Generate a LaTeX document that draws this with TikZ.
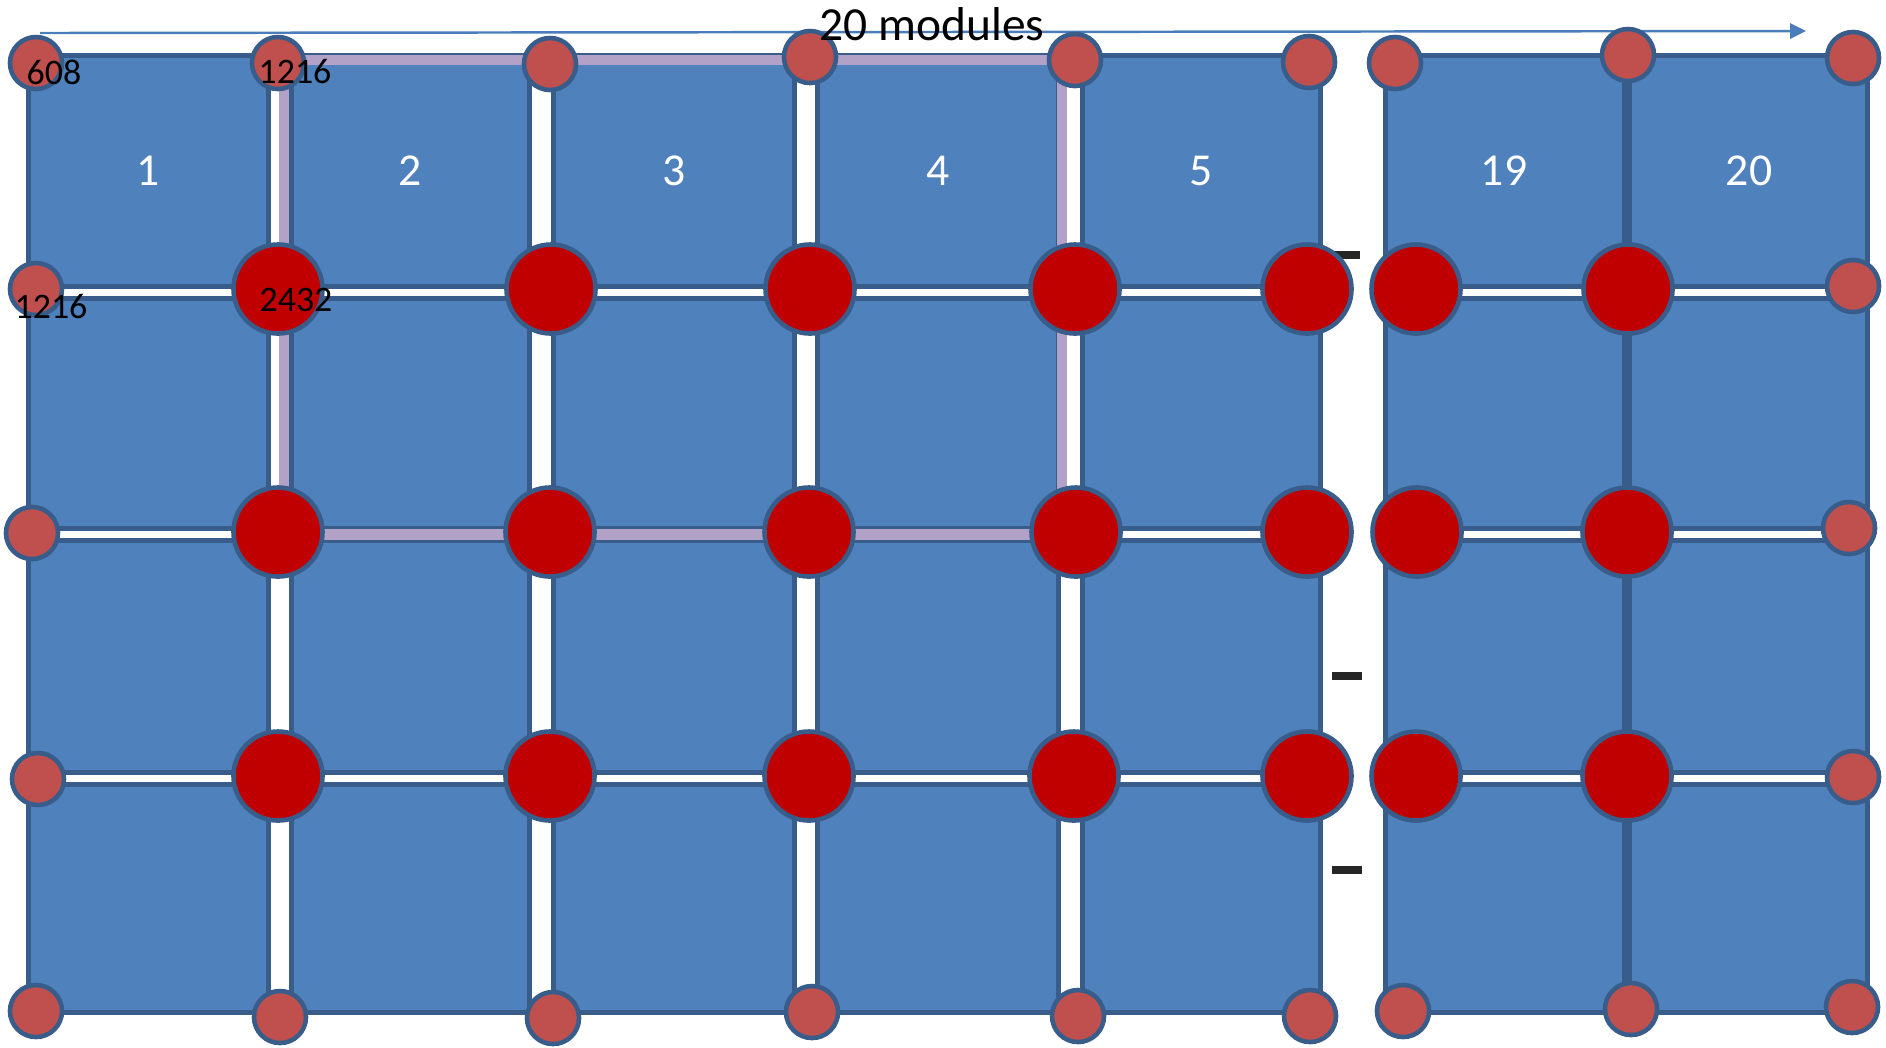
\documentclass[tikz,border=0pt]{standalone}
\usepackage{fontspec}
\setmainfont{Carlito}
\usetikzlibrary{arrows.meta}
\definecolor{tileblue}{HTML}{4F81BD}
\definecolor{tileedge}{HTML}{385D8A}
\definecolor{sitered}{HTML}{C0504D}
\definecolor{hubred}{HTML}{C00000}
\definecolor{lavender}{HTML}{B3A2C7}
\definecolor{arrowblue}{HTML}{4A7EBB}
\definecolor{dashgray}{HTML}{262626}

\begin{document}
\begin{tikzpicture}[
    x=0.01cm, y=-0.01cm,
    tile/.style={fill=tileblue, draw=tileedge, line width=1.42pt},
    sitedot/.style={circle, inner sep=0pt, minimum size=0.52cm, fill=sitered, draw=tileedge, line width=1.3pt},
    hubdot/.style={sitedot, minimum size=0.89cm, fill=hubred},
    modnum/.style={text=white, inner sep=0pt, font=\fontsize{13pt}{15pt}\selectfont},
    countlabel/.style={text=black, inner sep=0pt, font=\fontsize{10.2pt}{12pt}\selectfont},
    highlight/.style={draw=lavender, line width=3.1pt, line join=round},
    gapmark/.style={draw=dashgray, line width=2.3pt},
    arrow/.style={->, draw=arrowblue, line width=0.7pt, >={Triangle[length=4.5pt, width=4.3pt]}}
]
    \useasboundingbox (0,0) rectangle (1886,1047);

    % module columns, four tiles each
    \foreach \xl/\xr in {28.5/268.5, 291.5/529.5, 553.5/794.5, 817.5/1058.5, 1082.5/1320.5, 1385.5/1624.5, 1629.5/1867.5}
        \foreach \yt/\yb in {55.5/286, 298/528, 540/772, 784/1012.5}
            \draw[tile] (\xl,\yt) rectangle (\xr,\yb);

    \foreach \n/\x in {1/148, 2/410, 3/674, 4/938, 5/1201, 19/1504, 20/1749}
        \node[modnum] (mod\n) at (\x,171) {\n};

    % highlighted block
    \draw[highlight] (284,60) rectangle (1062,534.5);

    % skipped modules
    \draw[gapmark] (1332,255) -- (1360,255);
    \draw[gapmark] (1332,676) -- (1362,676);
    \draw[gapmark] (1332,870) -- (1362,870);

    \coordinate (arrowtail) at (40,33);
    \coordinate (arrowtip) at (1806,31);
    \draw[arrow] (arrowtail) -- (arrowtip);

    % corner and edge sites
    \foreach \x/\y [count=\i] in {36/63, 278/63, 550/64, 810/57, 1075/60, 1309/62, 1395/63, 1628/55, 1853/58}
        \node[sitedot] (top\i) at (\x,\y) {};
    \foreach \x/\y [count=\i] in {36/1011, 280/1017, 553/1018, 812/1012, 1078/1016, 1310/1016, 1403/1011, 1631/1009, 1852/1007}
        \node[sitedot] (bot\i) at (\x,\y) {};
    \foreach \x/\y [count=\i] in {36/289, 32/533, 38/779}
        \node[sitedot] (left\i) at (\x,\y) {};
    \foreach \x/\y [count=\i] in {1853/286, 1849/528, 1853/777}
        \node[sitedot] (right\i) at (\x,\y) {};

    % inner sites
    \foreach \x [count=\i] in {278, 551, 810, 1075, 1307, 1416, 1628}
        \node[hubdot] (hubA\i) at (\x,289) {};
    \foreach \x [count=\i] in {278, 550, 809, 1076, 1307, 1417, 1627}
        \node[hubdot] (hubB\i) at (\x,532) {};
    \foreach \x [count=\i] in {278, 550, 809, 1074, 1307, 1416, 1627}
        \node[hubdot] (hubC\i) at (\x,776) {};

    \node[countlabel] (c608) at (54,72) {608};
    \node[countlabel] (c1216top) at (295,72) {1216};
    \node[countlabel] (c1216left) at (51,307) {1216};
    \node[countlabel] (c2432) at (296,300) {2432};

    \node[inner sep=0pt, font=\fontsize{13.5pt}{16pt}\selectfont] (title) at (932,24) {20 modules};
\end{tikzpicture}
\end{document}
